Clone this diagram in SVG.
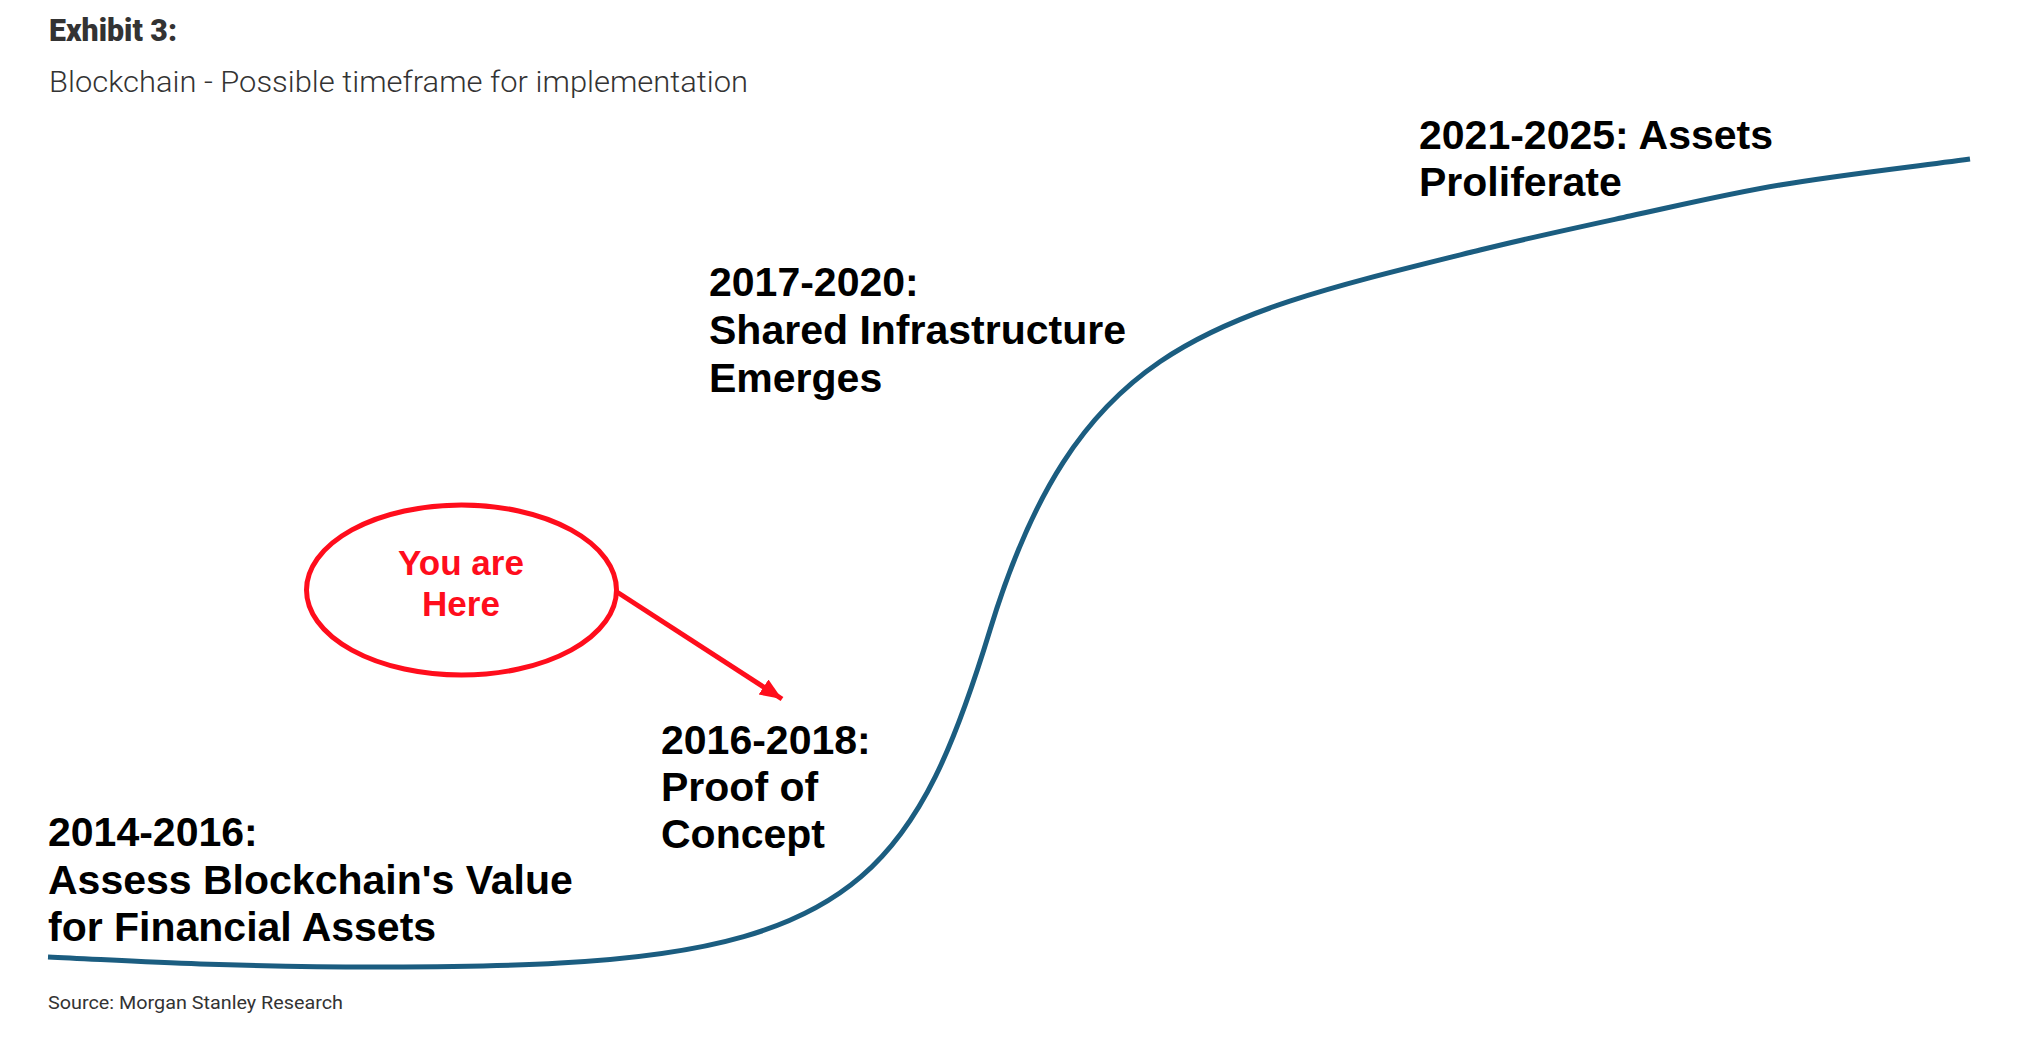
<svg xmlns="http://www.w3.org/2000/svg" width="2024" height="1044" viewBox="0 0 2024 1044">
  <style>
    .lbl { font-family: "Liberation Sans", Arial, sans-serif; font-weight: 700; font-size: 41px; fill: #000; }
    .hdr { font-family: Roboto, "Noto Sans", sans-serif; fill: #333; }
    .here { font-family: "Liberation Sans", Arial, sans-serif; font-weight: 700; font-size: 35px; fill: #ff0d1c; text-anchor: middle; }
    .curve { fill: none; stroke: #1b5d80; stroke-width: 5; stroke-linecap: butt; }
    .red { fill: none; stroke: #ff0d1c; stroke-width: 5; }
  </style>
  <defs>
    <marker id="arrow" markerUnits="userSpaceOnUse" markerWidth="24" markerHeight="20" refX="22" refY="9" orient="auto">
      <path d="M0,0 L22,9 L0,18 Z" fill="#ff0d1c"/>
    </marker>
  </defs>
  <rect width="2024" height="1044" fill="#fff"/>

  <g id="header">
    <text class="hdr" x="49" y="41" font-size="31" font-weight="900" textLength="128" lengthAdjust="spacingAndGlyphs">Exhibit 3:</text>
    <text class="hdr" x="49" y="92" font-size="29.5" font-weight="300" fill="#3a3a3a" textLength="699" lengthAdjust="spacingAndGlyphs">Blockchain - Possible timeframe for implementation</text>
  </g>

  <g id="connectors">
    <path id="adoption-curve" class="curve" d="M48,957 C98.7,959.3 149.3,962.5 200,964 C261.7,965.9 323.3,967.2 385,967 C443.3,966.8 501.8,966.5 560,963 C859.6,947.4 919.9,859.4 990,630 C1077.6,343.2 1208.1,317.5 1480,250 C1529.8,237.6 1579.9,226.9 1630,216 C1679.9,205.2 1729.6,193.4 1780,185 C1843,174.5 1906.7,167.6 1970,159"/>
    <line id="here-arrow" class="red" x1="617" y1="592" x2="782" y2="699" marker-end="url(#arrow)"/>
  </g>

  <g id="node-2014">
    <text class="lbl" x="48" y="846">2014-2016:</text>
    <text class="lbl" x="48" y="894">Assess Blockchain's Value</text>
    <text class="lbl" x="48" y="941">for Financial Assets</text>
  </g>

  <g id="node-2016">
    <text class="lbl" x="661" y="754">2016-2018:</text>
    <text class="lbl" x="661" y="801">Proof of</text>
    <text class="lbl" x="661" y="848">Concept</text>
  </g>

  <g id="node-2017">
    <text class="lbl" x="709" y="296">2017-2020:</text>
    <text class="lbl" x="709" y="344">Shared Infrastructure</text>
    <text class="lbl" x="709" y="392">Emerges</text>
  </g>

  <g id="node-2021">
    <text class="lbl" x="1419" y="149">2021-2025: Assets</text>
    <text class="lbl" x="1419" y="196">Proliferate</text>
  </g>

  <g id="node-you-are-here">
    <ellipse class="red" cx="461.5" cy="590" rx="155" ry="85"/>
    <text class="here" x="461" y="575">You are</text>
    <text class="here" x="461" y="616">Here</text>
  </g>

  <g id="footer">
    <text class="hdr" x="48" y="1009" font-size="18.5" font-weight="400" fill="#444" textLength="295" lengthAdjust="spacingAndGlyphs">Source: Morgan Stanley Research</text>
  </g>
</svg>
